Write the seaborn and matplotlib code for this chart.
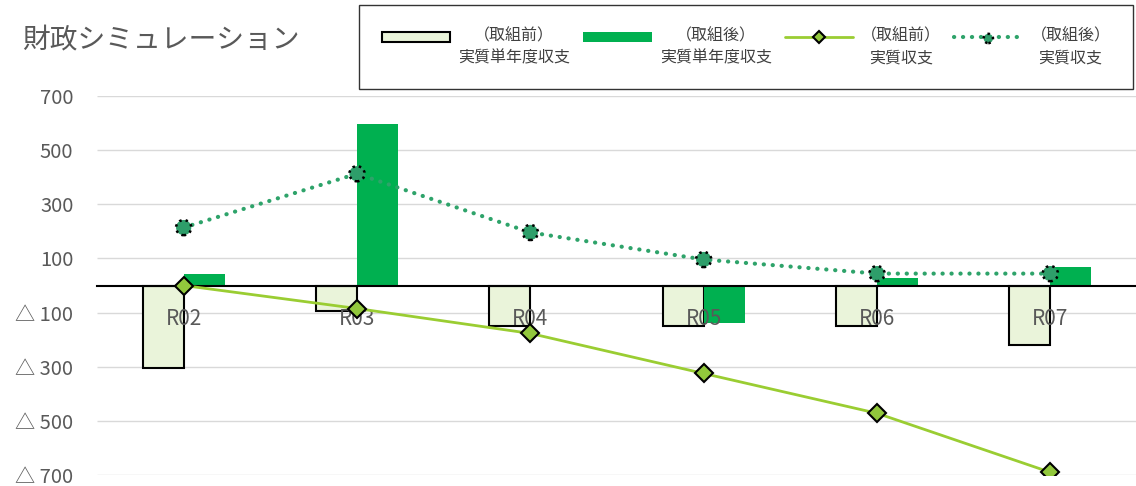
import numpy as np
import pandas as pd
import matplotlib
matplotlib.use("Agg")
import matplotlib.pyplot as plt
from matplotlib.lines import Line2D
from matplotlib.patches import Patch
from matplotlib.collections import PathCollection
from matplotlib.legend_handler import HandlerPatch, HandlerLine2D, HandlerPathCollection
from matplotlib.transforms import Affine2D
from matplotlib.ticker import FuncFormatter
import seaborn as sns

# ---- data ----
years = ["R02", "R03", "R04", "R05", "R06", "R07"]
single_before = [-305, -96, -148, -148, -151, -218]   # （取組前）実質単年度収支
single_after = [44, 595, 3, -137, 26, 70]             # （取組後）実質単年度収支
real_before = [0, -85, -177, -325, -472, -690]        # （取組前）実質収支
real_after = [214, 413, 196, 96, 44, 44]              # （取組後）実質収支
yticks = [-700, -500, -300, -100, 100, 300, 500, 700]

lab_bar_before = "（取組前）\n実質単年度収支"
lab_bar_after = "（取組後）\n実質単年度収支"
lab_line_before = "（取組前）\n実質収支"
lab_line_after = "（取組後）\n実質収支"

sns.set_theme(style="white")
plt.rcParams['font.family'] = ['Noto Sans CJK JP', 'DejaVu Sans']
plt.rcParams['axes.unicode_minus'] = False

GRAY = "#595959"
C_BEFORE_BAR = "#eaf4da"
C_AFTER_BAR = "#00b050"
C_LINE_BEFORE = "#9acd32"
C_MARK_BEFORE = "#92c83c"
C_LINE_AFTER = "#2ea36a"
C_MARK_AFTER = "#2e9e6a"

df = pd.DataFrame({
    "year": years * 2,
    "value": single_before + single_after,
    "series": ["before"] * len(years) + ["after"] * len(years),
})

fig = plt.figure(figsize=(11.36, 4.86), dpi=100)
ax = fig.add_axes([97 / 1136, 11 / 486, 1040 / 1136, 379 / 486])

# 目盛線（棒の後ろ）
ax.hlines(yticks, -0.5, 5.5, color="#d9d9d9", lw=1, zorder=0.5)

# 棒グラフ（実質単年度収支）
sns.barplot(data=df, x="year", y="value", hue="series",
            hue_order=["before", "after"],
            palette={"before": C_BEFORE_BAR, "after": C_AFTER_BAR},
            width=0.474, saturation=1, errorbar=None, legend=False, ax=ax)
for p in ax.containers[0]:
    p.set_edgecolor("black")
    p.set_linewidth(1.5)
for p in ax.containers[1]:
    p.set_linewidth(0)

xpos = np.arange(len(years))

# 折れ線（実質収支）
sns.lineplot(x=xpos, y=real_before, color=C_LINE_BEFORE, lw=2,
             marker="D", markersize=9, markerfacecolor=C_MARK_BEFORE,
             markeredgecolor="black", markeredgewidth=1.5, zorder=4, ax=ax)
sns.lineplot(x=xpos, y=real_after, color=C_LINE_AFTER, lw=3,
             linestyle=(0, (0.05, 2.1)), dash_capstyle="round", zorder=4, ax=ax)
sc = sns.scatterplot(x=xpos, y=real_after, color=C_MARK_AFTER, s=120,
                     edgecolor="black", linewidth=1.8, linestyle=(0, (1, 1.6)),
                     zorder=5, ax=ax).collections[-1]

# 軸（ラベルは棒の上、折れ線の下）
ax.set_axisbelow(False)
ax.set_xlim(-0.5, 5.5)
ax.set_ylim(-700, 700)
ax.set_yticks(yticks)
ax.yaxis.set_major_formatter(FuncFormatter(
    lambda v, pos: f"△ {abs(int(v))}" if v < 0 else f"{int(v)}"))
ax.grid(False)
for s in ["top", "right", "left"]:
    ax.spines[s].set_visible(False)
ax.spines["bottom"].set_position(("data", 0))
ax.spines["bottom"].set_color("black")
ax.spines["bottom"].set_linewidth(1.5)
ax.tick_params(axis="y", length=0, pad=17, labelsize=14.5, labelcolor=GRAY)
ax.tick_params(axis="x", length=0, pad=16, labelsize=15, labelcolor=GRAY)
ax.set_xlabel("")
ax.set_ylabel("")

# タイトル
fig.text(22 / 1136, 1 - 40 / 486, "財政シミュレーション", fontsize=20,
         color=GRAY, va="center", ha="left")


# 凡例（記号を1行目の高さにそろえる）
def raised(cls, dy, **kw):
    class Raised(cls):
        def create_artists(self, legend, orig_handle, xdescent, ydescent,
                           width, height, fontsize, trans):
            t = Affine2D().translate(0, dy * fontsize) + trans
            return super().create_artists(legend, orig_handle, xdescent, ydescent,
                                          width, height, fontsize, t)
    return Raised(**kw)


h_bar_before = Patch(facecolor=C_BEFORE_BAR, edgecolor="black", lw=1.5)
h_bar_after = Patch(facecolor=C_AFTER_BAR, edgecolor=C_AFTER_BAR, lw=0)
h_line_before = Line2D([], [], color=C_LINE_BEFORE, lw=2, marker="D", markersize=6,
                       markerfacecolor=C_MARK_BEFORE, markeredgecolor="black",
                       markeredgewidth=1.5)
h_line_after = Line2D([], [], color=C_LINE_AFTER, lw=3,
                      linestyle=(0, (0.05, 2.1)), dash_capstyle="round")
yp = 0.7
leg = fig.legend(
    [h_bar_before, h_bar_after, h_line_before, (h_line_after, sc)],
    [lab_bar_before, lab_bar_after, lab_line_before, lab_line_after],
    loc="upper right", bbox_to_anchor=(1133 / 1136, 1 - 5 / 486),
    borderaxespad=0, ncol=4, fontsize=11.5, frameon=True, fancybox=False,
    handlelength=4.3, handleheight=0.6, handletextpad=0.5, columnspacing=0.8,
    borderpad=1.4, scatterpoints=1, labelcolor="#404040",
    handler_map={
        Patch: raised(HandlerPatch, yp),
        Line2D: raised(HandlerLine2D, yp),
        PathCollection: raised(HandlerPathCollection, yp, sizes=[45]),
    },
)
leg.get_frame().set_edgecolor("black")
leg.get_frame().set_linewidth(1.0)
for t in leg.get_texts():
    t.set_multialignment("center")
    t.set_linespacing(1.4)

fig.savefig("out.png", dpi=100)
